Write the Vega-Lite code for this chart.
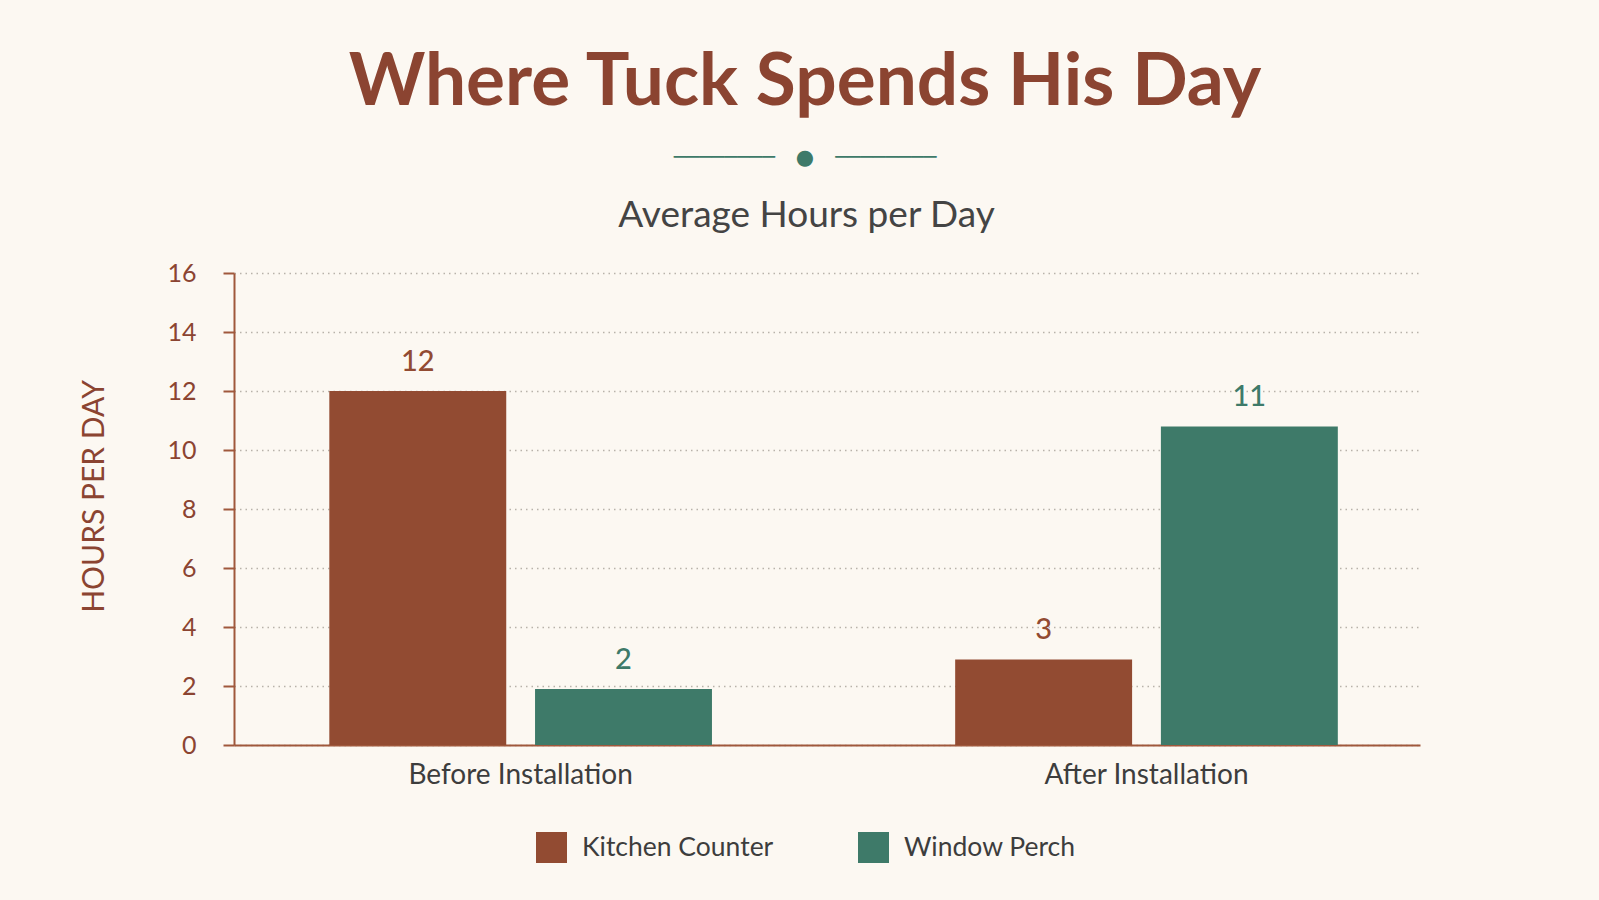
{
  "$schema": "https://vega.github.io/schema/vega-lite/v6.json",
  "width": 1186,
  "height": 472,
  "autosize": "none",
  "padding": {"left": 234, "top": 273, "right": 179, "bottom": 155},
  "background": "#fcf8f2",
  "view": {"stroke": null},
  "title": {
    "text": "Where Tuck Spends His Day",
    "subtitle": "────────\u2002\u2002●\u2002\u2002────────",
    "anchor": "middle",
    "dx": -22,
    "offset": 28,
    "font": "Lato",
    "fontSize": 73,
    "fontWeight": "bold",
    "color": "#8b4431",
    "subtitleFont": "DejaVu Sans",
    "subtitleFontSize": 21,
    "subtitleColor": "#3e7a69",
    "subtitlePadding": 27
  },
  "data": {
    "values": [
      {"period": "Before Installation", "spot": "Kitchen Counter", "hours": 12},
      {"period": "Before Installation", "spot": "Window Perch", "hours": 1.9},
      {"period": "After Installation", "spot": "Kitchen Counter", "hours": 2.9},
      {"period": "After Installation", "spot": "Window Perch", "hours": 10.8}
    ]
  },
  "encoding": {
    "x": {
      "field": "period",
      "type": "nominal",
      "sort": ["Before Installation", "After Installation"],
      "scale": {"paddingInner": 0.3886, "paddingOuter": 0.1418, "align": 0.537}
    },
    "xOffset": {
      "field": "spot",
      "type": "nominal",
      "sort": ["Kitchen Counter", "Window Perch"],
      "scale": {"paddingInner": 0.14, "paddingOuter": 0}
    },
    "y": {
      "field": "hours",
      "type": "quantitative",
      "scale": {"domain": [0, 16]},
      "axis": {
        "values": [0, 2, 4, 6, 8, 10, 12, 14, 16],
        "title": "HOURS PER DAY",
        "titleFont": "Lato",
        "titleFontSize": 30,
        "titleFontWeight": "normal",
        "titleColor": "#8b4431",
        "titlePadding": 57,
        "titleY": 223,
        "labelFont": "Lato",
        "labelFontSize": 25,
        "labelColor": "#8b4431",
        "labelPadding": 27,
        "tickSize": 11,
        "tickColor": "#a0583c",
        "tickWidth": 2,
        "domainColor": "#a0583c",
        "domainWidth": 2,
        "grid": true,
        "gridColor": "#b8b2aa",
        "gridDash": [1.5, 4],
        "gridWidth": 1.5
      }
    },
    "color": {
      "field": "spot",
      "type": "nominal",
      "sort": ["Kitchen Counter", "Window Perch"],
      "scale": {
        "domain": ["Kitchen Counter", "Window Perch"],
        "range": ["#924b32", "#3e7a69"]
      }
    }
  },
  "layer": [
    {
      "mark": {"type": "bar"},
      "encoding": {
        "x": {
          "field": "period",
          "type": "nominal",
          "sort": ["Before Installation", "After Installation"],
          "axis": {
            "title": null,
            "labelFont": "Lato",
            "labelFontSize": 28,
            "labelColor": "#3d3d3d",
            "labelPadding": 16,
            "labelAngle": 0,
            "labelLimit": 500,
            "ticks": false,
            "domainColor": "#a0583c",
            "domainWidth": 2
          }
        },
        "color": {
          "field": "spot",
          "type": "nominal",
          "sort": ["Kitchen Counter", "Window Perch"],
          "legend": {
            "title": null,
            "orient": "none",
            "legendX": 302,
            "legendY": 559,
            "direction": "horizontal",
            "symbolType": "square",
            "symbolSize": 961,
            "symbolStrokeWidth": 0,
            "symbolOpacity": 1,
            "labelFont": "Lato",
            "labelFontSize": 26.5,
            "labelColor": "#3d3d3d",
            "labelOffset": 15,
            "labelLimit": 400,
            "columnPadding": 84
          }
        }
      }
    },
    {
      "mark": {"type": "text", "baseline": "alphabetic", "dy": -20, "font": "Lato", "fontSize": 29, "fontWeight": 500},
      "encoding": {
        "x": {
          "field": "period",
          "type": "nominal",
          "sort": ["Before Installation", "After Installation"],
          "axis": {
            "orient": "top",
            "labels": false,
            "ticks": false,
            "domain": false,
            "grid": false,
            "title": "Average Hours per Day",
            "titleFont": "Lato",
            "titleFontSize": 37,
            "titleFontWeight": "normal",
            "titleColor": "#444444",
            "titleBaseline": "alphabetic",
            "titleX": 572,
            "titleY": -47
          }
        },
        "text": {"field": "hours", "type": "quantitative", "format": ".0f"},
        "color": {
          "field": "spot",
          "type": "nominal",
          "sort": ["Kitchen Counter", "Window Perch"],
          "legend": null
        }
      }
    }
  ],
  "resolve": {"axis": {"x": "independent"}}
}
